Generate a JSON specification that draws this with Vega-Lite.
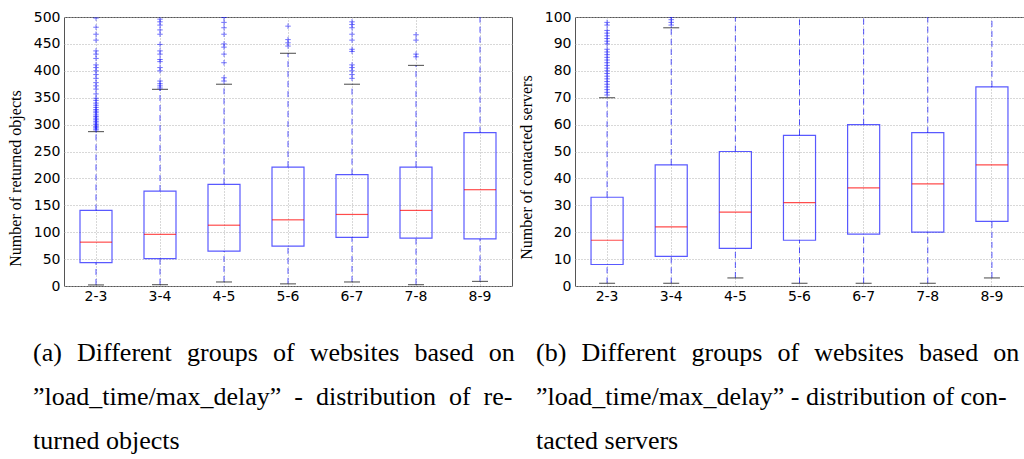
{
  "$schema": "https://vega.github.io/schema/vega-lite/v6.json",
  "padding": {"left": 6, "top": 9, "right": 0, "bottom": 0},
  "background": "white",
  "datasets": {
    "statsA": [
      {"g": "2-3", "lo": 2, "q1": 43.5, "med": 81.5, "q3": 140.5, "hi": 287},
      {"g": "3-4", "lo": 2.5, "q1": 51, "med": 96, "q3": 176.5, "hi": 365.5},
      {"g": "4-5", "lo": 7.5, "q1": 65, "med": 113, "q3": 189, "hi": 375},
      {"g": "5-6", "lo": 4, "q1": 74, "med": 123, "q3": 221, "hi": 432.5},
      {"g": "6-7", "lo": 7.5, "q1": 90.5, "med": 133, "q3": 207, "hi": 375},
      {"g": "7-8", "lo": 2.5, "q1": 89, "med": 140.5, "q3": 221, "hi": 410},
      {"g": "8-9", "lo": 8.5, "q1": 87.5, "med": 179, "q3": 285, "hi": 560}
    ],
    "outA": [
      {"g": "2-3", "v": 498}, {"g": "2-3", "v": 481}, {"g": "2-3", "v": 468}, {"g": "2-3", "v": 457},
      {"g": "2-3", "v": 437}, {"g": "2-3", "v": 431}, {"g": "2-3", "v": 423}, {"g": "2-3", "v": 411},
      {"g": "2-3", "v": 406}, {"g": "2-3", "v": 400}, {"g": "2-3", "v": 393}, {"g": "2-3", "v": 386},
      {"g": "2-3", "v": 378}, {"g": "2-3", "v": 372}, {"g": "2-3", "v": 366}, {"g": "2-3", "v": 357},
      {"g": "2-3", "v": 349}, {"g": "2-3", "v": 345}, {"g": "2-3", "v": 340}, {"g": "2-3", "v": 336},
      {"g": "2-3", "v": 332}, {"g": "2-3", "v": 328}, {"g": "2-3", "v": 325}, {"g": "2-3", "v": 322},
      {"g": "2-3", "v": 318}, {"g": "2-3", "v": 315}, {"g": "2-3", "v": 312}, {"g": "2-3", "v": 309},
      {"g": "2-3", "v": 306}, {"g": "2-3", "v": 303}, {"g": "2-3", "v": 300}, {"g": "2-3", "v": 297},
      {"g": "2-3", "v": 295}, {"g": "2-3", "v": 292}, {"g": "2-3", "v": 290},
      {"g": "3-4", "v": 496}, {"g": "3-4", "v": 491}, {"g": "3-4", "v": 485}, {"g": "3-4", "v": 476},
      {"g": "3-4", "v": 468}, {"g": "3-4", "v": 449}, {"g": "3-4", "v": 437}, {"g": "3-4", "v": 431},
      {"g": "3-4", "v": 421}, {"g": "3-4", "v": 417}, {"g": "3-4", "v": 406}, {"g": "3-4", "v": 400},
      {"g": "3-4", "v": 381}, {"g": "3-4", "v": 376}, {"g": "3-4", "v": 372}, {"g": "3-4", "v": 368},
      {"g": "4-5", "v": 499}, {"g": "4-5", "v": 490}, {"g": "4-5", "v": 480}, {"g": "4-5", "v": 468},
      {"g": "4-5", "v": 450}, {"g": "4-5", "v": 444}, {"g": "4-5", "v": 431}, {"g": "4-5", "v": 415},
      {"g": "4-5", "v": 387}, {"g": "4-5", "v": 381},
      {"g": "5-6", "v": 483}, {"g": "5-6", "v": 458}, {"g": "5-6", "v": 452}, {"g": "5-6", "v": 446},
      {"g": "6-7", "v": 491}, {"g": "6-7", "v": 486}, {"g": "6-7", "v": 480}, {"g": "6-7", "v": 468},
      {"g": "6-7", "v": 457}, {"g": "6-7", "v": 440}, {"g": "6-7", "v": 436}, {"g": "6-7", "v": 411},
      {"g": "6-7", "v": 406}, {"g": "6-7", "v": 400}, {"g": "6-7", "v": 393}, {"g": "6-7", "v": 386},
      {"g": "7-8", "v": 467}, {"g": "7-8", "v": 457}, {"g": "7-8", "v": 431}, {"g": "7-8", "v": 426}
    ],
    "statsB": [
      {"g": "2-3", "lo": 1, "q1": 8, "med": 17, "q3": 33, "hi": 70},
      {"g": "3-4", "lo": 1, "q1": 11, "med": 22, "q3": 45, "hi": 96},
      {"g": "4-5", "lo": 3, "q1": 14, "med": 27.5, "q3": 50, "hi": 110},
      {"g": "5-6", "lo": 1, "q1": 17, "med": 31, "q3": 56, "hi": 110},
      {"g": "6-7", "lo": 1, "q1": 19.3, "med": 36.5, "q3": 60, "hi": 110},
      {"g": "7-8", "lo": 1, "q1": 20, "med": 38, "q3": 57, "hi": 110},
      {"g": "8-9", "lo": 3, "q1": 24, "med": 45, "q3": 74, "hi": 110}
    ],
    "outB": [
      {"g": "2-3", "v": 98}, {"g": "2-3", "v": 97}, {"g": "2-3", "v": 95}, {"g": "2-3", "v": 94},
      {"g": "2-3", "v": 93}, {"g": "2-3", "v": 92}, {"g": "2-3", "v": 91}, {"g": "2-3", "v": 90},
      {"g": "2-3", "v": 88}, {"g": "2-3", "v": 87}, {"g": "2-3", "v": 86}, {"g": "2-3", "v": 85},
      {"g": "2-3", "v": 84}, {"g": "2-3", "v": 83}, {"g": "2-3", "v": 82}, {"g": "2-3", "v": 81},
      {"g": "2-3", "v": 80}, {"g": "2-3", "v": 79}, {"g": "2-3", "v": 78}, {"g": "2-3", "v": 77},
      {"g": "2-3", "v": 76}, {"g": "2-3", "v": 75}, {"g": "2-3", "v": 74}, {"g": "2-3", "v": 73},
      {"g": "2-3", "v": 72}, {"g": "2-3", "v": 71},
      {"g": "3-4", "v": 97}, {"g": "3-4", "v": 98}, {"g": "3-4", "v": 99}, {"g": "3-4", "v": 100}
    ]
  },
  "hconcat": [
    {
      "width": 448,
      "height": 269,
      "title": {
        "text": ["(a)\u00a0\u200a Different\u00a0\u200a groups\u00a0\u200a of\u00a0\u200a websites\u00a0\u200a based\u00a0\u200a on", "\u201dload_time/max_delay\u201d\u00a0 -\u00a0 distribution\u00a0 of\u00a0 re-", "turned objects"],
        "orient": "bottom", "anchor": "start", "frame": "group", "dx": -31, "offset": 37
      },
      "encoding": {
        "x": {"field": "g", "type": "nominal", "scale": {"domain": ["2-3", "3-4", "4-5", "5-6", "6-7", "7-8", "8-9"], "paddingInner": 0, "paddingOuter": 0}, "axis": {"title": null, "labelAngle": 0}}
      },
      "layer": [
        {"data": {"name": "statsA"}, "mark": {"type": "rule", "color": "#0000ff", "strokeDash": [6, 4], "opacity": 0.65, "clip": true},
         "encoding": {"y": {"field": "lo", "type": "quantitative", "scale": {"domain": [0, 500], "nice": false}, "axis": {"title": "Number of returned objects", "titleY": 161, "values": [0, 50, 100, 150, 200, 250, 300, 350, 400, 450, 500], "labelOverlap": false, "tickCount": 11}}, "y2": {"field": "q1"}}},
        {"data": {"name": "statsA"}, "mark": {"type": "rule", "color": "#0000ff", "strokeDash": [6, 4], "opacity": 0.65, "clip": true},
         "encoding": {"y": {"field": "q3", "type": "quantitative", "axis": {"title": "Number of returned objects", "titleY": 161, "values": [0, 50, 100, 150, 200, 250, 300, 350, 400, 450, 500], "labelOverlap": false, "tickCount": 11}}, "y2": {"field": "hi"}}},
        {"data": {"name": "statsA"}, "mark": {"type": "bar", "width": {"band": 0.5}, "fill": "white", "fillOpacity": 0, "stroke": "#0000ff", "strokeOpacity": 0.65, "strokeWidth": 1.2, "clip": true},
         "encoding": {"y": {"field": "q1", "type": "quantitative", "axis": {"title": "Number of returned objects", "titleY": 161, "values": [0, 50, 100, 150, 200, 250, 300, 350, 400, 450, 500], "labelOverlap": false, "tickCount": 11}}, "y2": {"field": "q3"}}},
        {"data": {"name": "statsA"}, "mark": {"type": "tick", "color": "#ff0000", "opacity": 0.7, "size": 32, "thickness": 1.2, "clip": true},
         "encoding": {"y": {"field": "med", "type": "quantitative", "axis": {"title": "Number of returned objects", "titleY": 161, "values": [0, 50, 100, 150, 200, 250, 300, 350, 400, 450, 500], "labelOverlap": false, "tickCount": 11}}}},
        {"data": {"name": "statsA"}, "mark": {"type": "tick", "color": "#000000", "opacity": 0.6, "size": 16, "thickness": 1.2, "clip": true},
         "encoding": {"y": {"field": "lo", "type": "quantitative", "axis": {"title": "Number of returned objects", "titleY": 161, "values": [0, 50, 100, 150, 200, 250, 300, 350, 400, 450, 500], "labelOverlap": false, "tickCount": 11}}}},
        {"data": {"name": "statsA"}, "mark": {"type": "tick", "color": "#000000", "opacity": 0.6, "size": 16, "thickness": 1.2, "clip": true},
         "encoding": {"y": {"field": "hi", "type": "quantitative", "axis": {"title": "Number of returned objects", "titleY": 161, "values": [0, 50, 100, 150, 200, 250, 300, 350, 400, 450, 500], "labelOverlap": false, "tickCount": 11}}}},
        {"data": {"name": "outA"}, "mark": {"type": "point", "shape": "M-1,0L1,0M0,-1L0,1", "size": 30, "filled": false, "color": "#0000ff", "opacity": 0.55, "strokeWidth": 1, "clip": true},
         "encoding": {"y": {"field": "v", "type": "quantitative", "axis": {"title": "Number of returned objects", "titleY": 161, "values": [0, 50, 100, 150, 200, 250, 300, 350, 400, 450, 500], "labelOverlap": false, "tickCount": 11}}}}
      ]
    },
    {
      "width": 449,
      "height": 269,
      "title": {
        "text": ["(b)\u00a0\u200a Different\u00a0\u200a groups\u00a0\u200a of\u00a0\u200a websites\u00a0\u200a based\u00a0\u200a on", "\u201dload_time/max_delay\u201d - distribution of con-", "tacted servers"],
        "orient": "bottom", "anchor": "start", "frame": "group", "dx": -39, "offset": 37
      },
      "encoding": {
        "x": {"field": "g", "type": "nominal", "scale": {"domain": ["2-3", "3-4", "4-5", "5-6", "6-7", "7-8", "8-9"], "paddingInner": 0, "paddingOuter": 0}, "axis": {"title": null, "labelAngle": 0}}
      },
      "layer": [
        {"data": {"name": "statsB"}, "mark": {"type": "rule", "color": "#0000ff", "strokeDash": [6, 4], "opacity": 0.65, "clip": true},
         "encoding": {"y": {"field": "lo", "type": "quantitative", "scale": {"domain": [0, 100], "nice": false}, "axis": {"title": "Number of contacted servers", "titleY": 150, "values": [0, 10, 20, 30, 40, 50, 60, 70, 80, 90, 100], "labelOverlap": false, "tickCount": 11}}, "y2": {"field": "q1"}}},
        {"data": {"name": "statsB"}, "mark": {"type": "rule", "color": "#0000ff", "strokeDash": [6, 4], "opacity": 0.65, "clip": true},
         "encoding": {"y": {"field": "q3", "type": "quantitative", "axis": {"title": "Number of contacted servers", "titleY": 150, "values": [0, 10, 20, 30, 40, 50, 60, 70, 80, 90, 100], "labelOverlap": false, "tickCount": 11}}, "y2": {"field": "hi"}}},
        {"data": {"name": "statsB"}, "mark": {"type": "bar", "width": {"band": 0.5}, "fill": "white", "fillOpacity": 0, "stroke": "#0000ff", "strokeOpacity": 0.65, "strokeWidth": 1.2, "clip": true},
         "encoding": {"y": {"field": "q1", "type": "quantitative", "axis": {"title": "Number of contacted servers", "titleY": 150, "values": [0, 10, 20, 30, 40, 50, 60, 70, 80, 90, 100], "labelOverlap": false, "tickCount": 11}}, "y2": {"field": "q3"}}},
        {"data": {"name": "statsB"}, "mark": {"type": "tick", "color": "#ff0000", "opacity": 0.7, "size": 32, "thickness": 1.2, "clip": true},
         "encoding": {"y": {"field": "med", "type": "quantitative", "axis": {"title": "Number of contacted servers", "titleY": 150, "values": [0, 10, 20, 30, 40, 50, 60, 70, 80, 90, 100], "labelOverlap": false, "tickCount": 11}}}},
        {"data": {"name": "statsB"}, "mark": {"type": "tick", "color": "#000000", "opacity": 0.6, "size": 16, "thickness": 1.2, "clip": true},
         "encoding": {"y": {"field": "lo", "type": "quantitative", "axis": {"title": "Number of contacted servers", "titleY": 150, "values": [0, 10, 20, 30, 40, 50, 60, 70, 80, 90, 100], "labelOverlap": false, "tickCount": 11}}}},
        {"data": {"name": "statsB"}, "mark": {"type": "tick", "color": "#000000", "opacity": 0.6, "size": 16, "thickness": 1.2, "clip": true},
         "encoding": {"y": {"field": "hi", "type": "quantitative", "axis": {"title": "Number of contacted servers", "titleY": 150, "values": [0, 10, 20, 30, 40, 50, 60, 70, 80, 90, 100], "labelOverlap": false, "tickCount": 11}}}},
        {"data": {"name": "outB"}, "mark": {"type": "point", "shape": "M-1,0L1,0M0,-1L0,1", "size": 30, "filled": false, "color": "#0000ff", "opacity": 0.55, "strokeWidth": 1, "clip": true},
         "encoding": {"y": {"field": "v", "type": "quantitative", "axis": {"title": "Number of contacted servers", "titleY": 150, "values": [0, 10, 20, 30, 40, 50, 60, 70, 80, 90, 100], "labelOverlap": false, "tickCount": 11}}}}
      ]
    }
  ],
  "spacing": 63,
  "bounds": "flush",
  "config": {
    "view": {"stroke": "#555555", "strokeWidth": 1},
    "axis": {
      "domain": false, "grid": true, "gridColor": "#b0b0b0", "gridDash": [1, 2], "gridWidth": 1,
      "ticks": false, "labelPadding": 4, "titlePadding": 10, "labelOverlap": false,
      "labelFont": "DejaVu Sans", "labelFontSize": 14, "labelColor": "#000000",
      "titleFont": "Liberation Serif", "titleFontSize": 16, "titleFontWeight": "normal", "titleColor": "#000000"
    },
    "axisX": {"labelPadding": 3},
    "title": {"font": "Liberation Serif", "fontSize": 26, "fontWeight": "normal", "color": "#000000", "lineHeight": 44, "baseline": "top"}
  }
}
